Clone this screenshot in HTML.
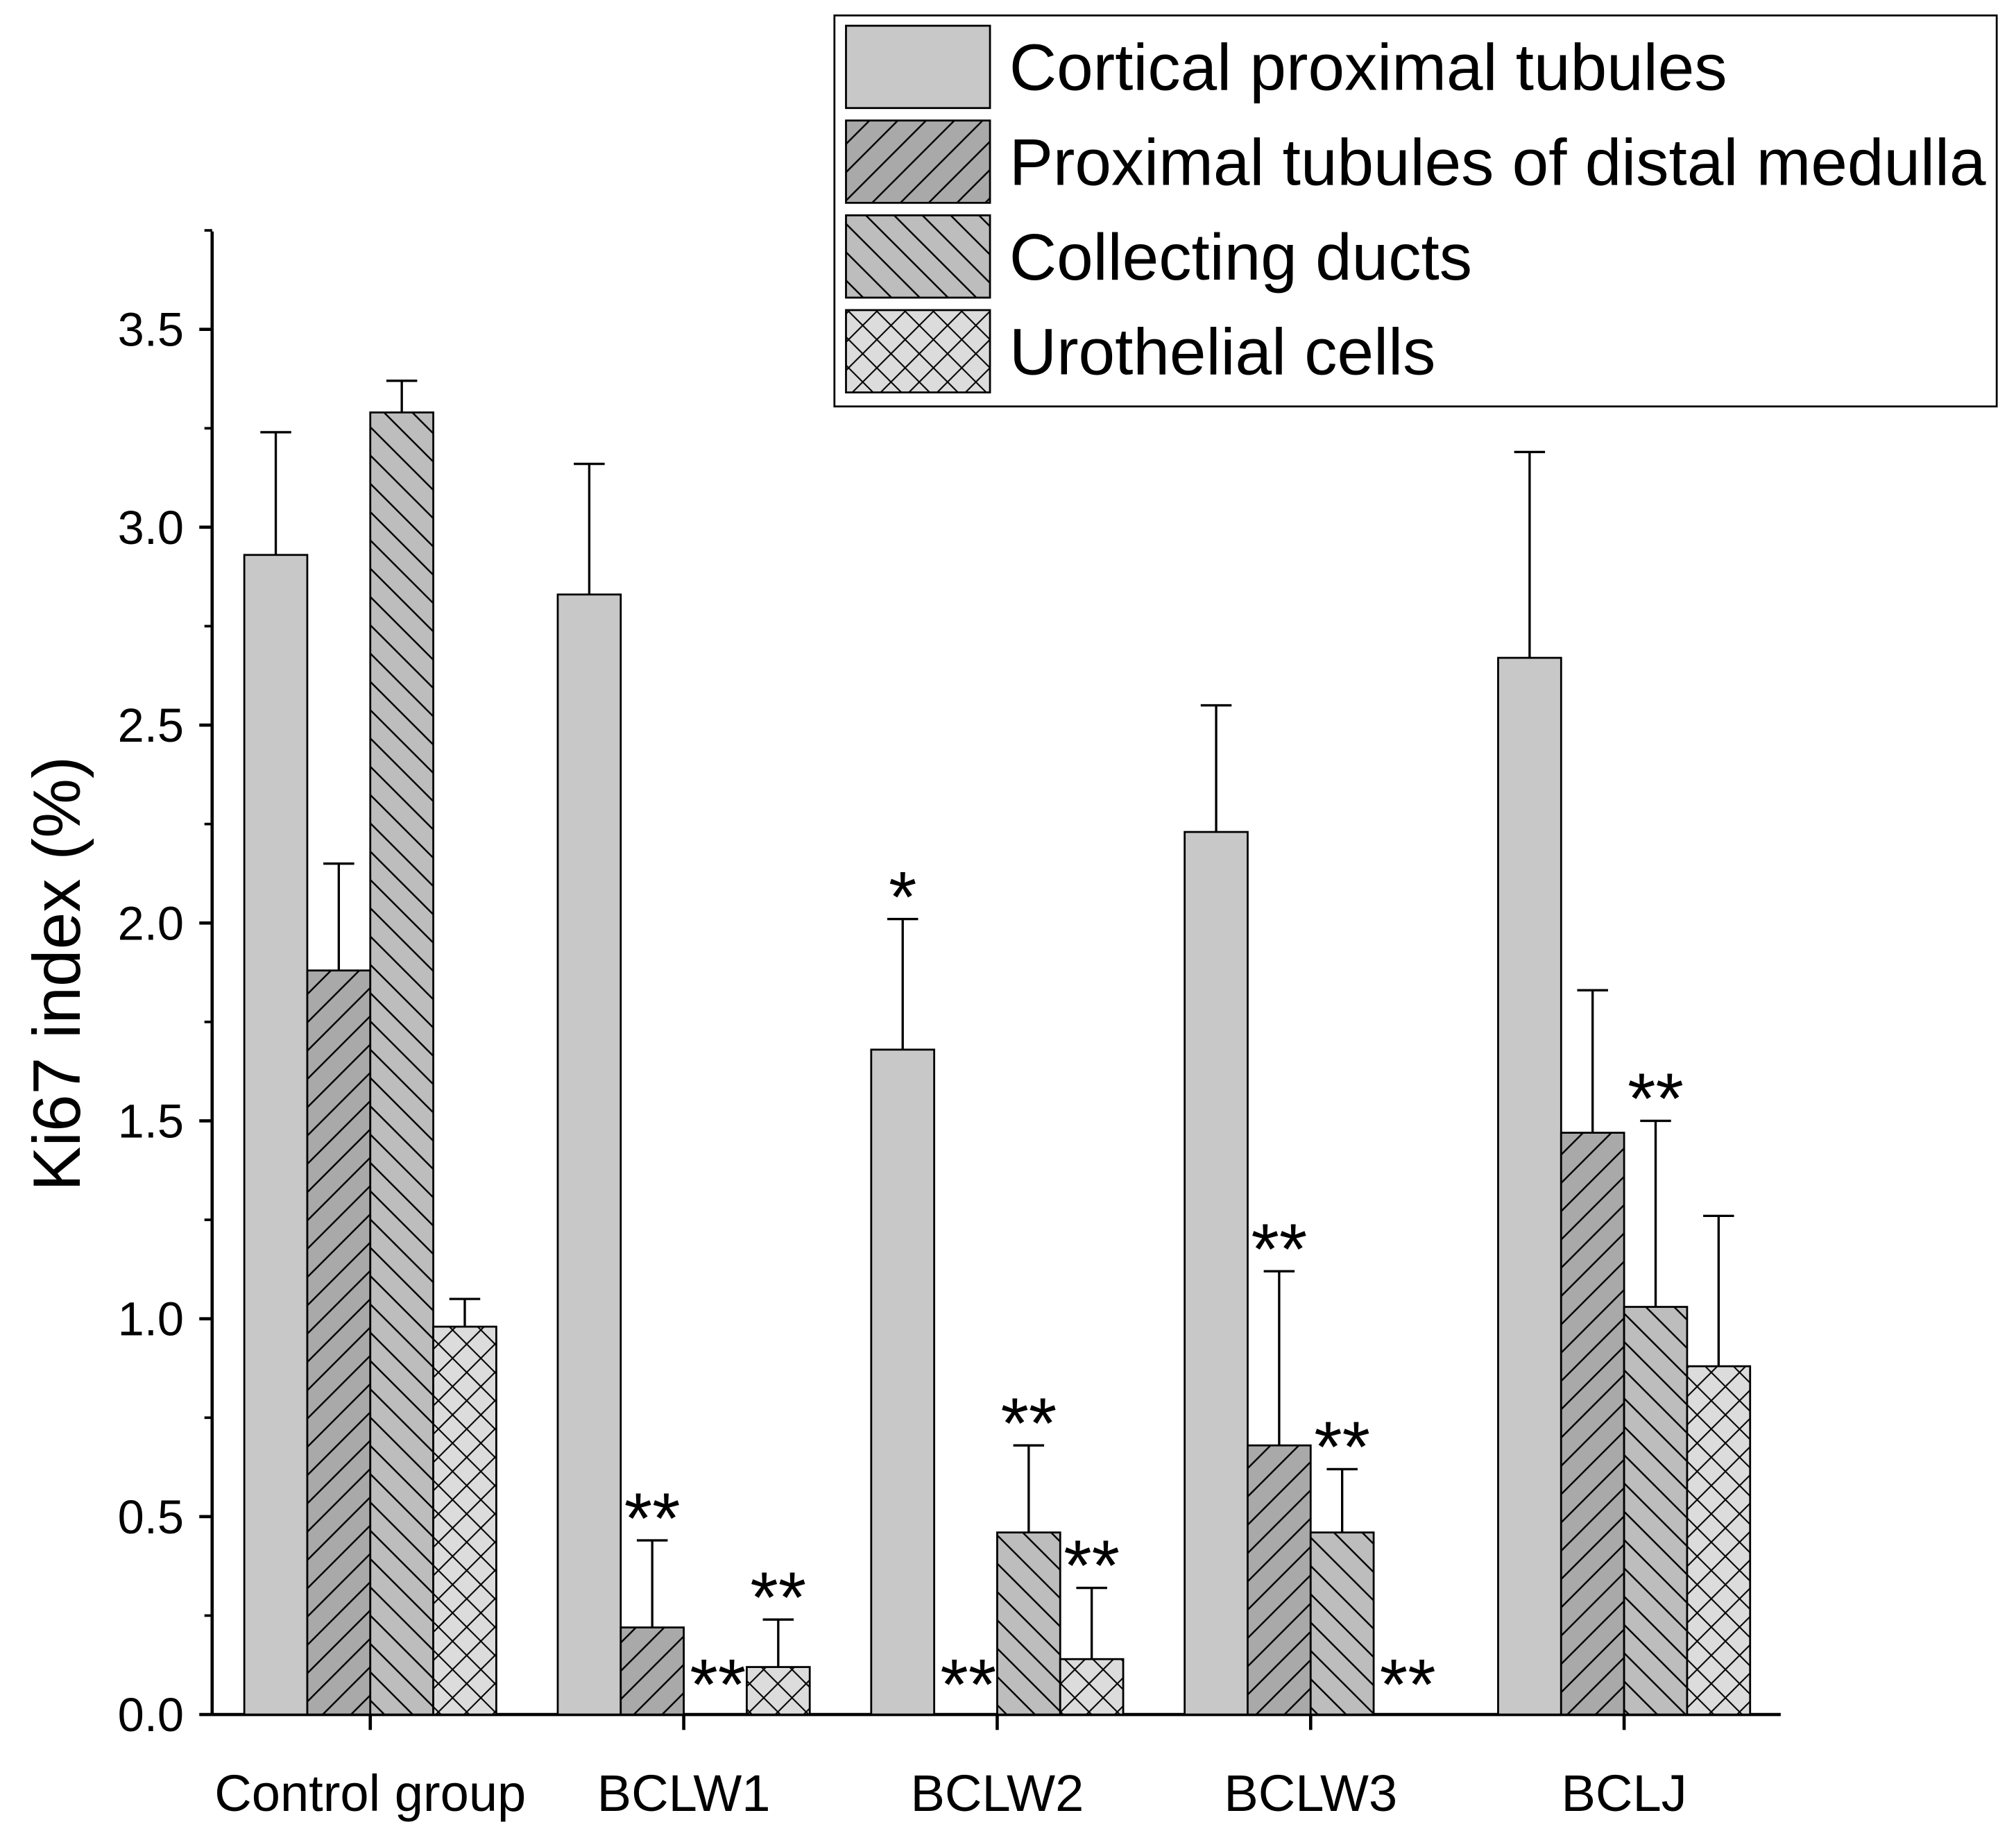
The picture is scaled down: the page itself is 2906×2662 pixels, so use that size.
<!DOCTYPE html>
<html><head><meta charset="utf-8"><style>
html,body{margin:0;padding:0;background:#fff}
svg{display:block}
text{font-family:"Liberation Sans",sans-serif;fill:#000}
</style></head><body>
<svg id="chart" width="2906" height="2662" viewBox="0 0 1568 1436" preserveAspectRatio="none" xmlns="http://www.w3.org/2000/svg">
<defs>
<pattern id="p1" patternUnits="userSpaceOnUse" width="22" height="22"><rect width="22" height="22" fill="#a9a9a9"/><path d="M-2,24 L24,-2 M-13,13 L13,-13 M9,35 L35,9" stroke="#000" stroke-width="1.3"/></pattern>
<pattern id="p2" patternUnits="userSpaceOnUse" width="22" height="22"><rect width="22" height="22" fill="#bdbdbd"/><path d="M-2,-2 L24,24 M-13,9 L13,35 M9,-13 L35,13" stroke="#000" stroke-width="1.3"/></pattern>
<pattern id="p3" patternUnits="userSpaceOnUse" width="22" height="22"><rect width="22" height="22" fill="#dcdcdc"/><path d="M-2,24 L24,-2 M-13,13 L13,-13 M9,35 L35,9 M-2,-2 L24,24 M-13,9 L13,35 M9,-13 L35,13" stroke="#000" stroke-width="1.1"/></pattern>
</defs>
<g id="plot"></g>
</svg>
<script>
const categories=["Control group","BCLW1","BCLW2","BCLW3","BCLJ"];
const seriesNames=["Cortical proximal tubules","Proximal tubules of distal medulla","Collecting ducts","Urothelial cells"];
const cortical=[2.93,2.83,1.68,2.23,2.67];
const cortical_err=[0.31,0.33,0.33,0.32,0.52];
const distal=[1.88,0.22,0,0.68,1.47];
const distal_err=[0.27,0.22,0,0.44,0.36];
const collecting=[3.29,0,0.46,0.46,1.03];
const collecting_err=[0.08,0,0.22,0.16,0.47];
const urothelial=[0.98,0.12,0.14,0,0.88];
const urothelial_err=[0.07,0.12,0.18,0,0.38];
const stars=[["","","",""],["","**","**","**"],["*","**","**","**"],["","**","**","**"],["","","**",""]];
const yTicks=[0,0.5,1,1.5,2,2.5,3,3.5];

const NS="http://www.w3.org/2000/svg";
const g=document.getElementById('plot');
const x0=165,y0=1333,unit=307.7;
const yS=v=>y0-v*unit;
const groupCenter=i=>288+i*243.8;
const bw=49;
function el(t,a,p){const e=document.createElementNS(NS,t);for(const k in a)e.setAttribute(k,a[k]);(p||g).appendChild(e);return e;}
const fills=["#c8c8c8","url(#p1)","url(#p2)","url(#p3)"];
const vals=[cortical,distal,collecting,urothelial];
const errs=[cortical_err,distal_err,collecting_err,urothelial_err];
let a=el('line',{x1:x0,y1:180,x2:x0,y2:y0,stroke:'#000','stroke-width':2.5});

a=el('line',{x1:x0,y1:y0,x2:1385,y2:y0,stroke:'#000','stroke-width':2.5});

yTicks.forEach(v=>{
 const t=el('line',{x1:x0-10,x2:x0,y1:yS(v),y2:yS(v),stroke:'#000','stroke-width':2.5});
 
 const m=el('line',{x1:x0-6,x2:x0,y1:yS(v+0.25),y2:yS(v+0.25),stroke:'#000','stroke-width':2});
 
 const l=el('text',{x:x0-22,y:yS(v)+13,'text-anchor':'end','font-size':37});
 l.textContent=v.toFixed(1);
 
});
categories.forEach((c,i)=>{
 const cx=groupCenter(i);
 const t=el('line',{x1:cx,x2:cx,y1:y0,y2:y0+12,stroke:'#000','stroke-width':2.5});
 
 const l=el('text',{x:cx,y:1408,'text-anchor':'middle','font-size':40});
 l.textContent=c;
 
 for(let s=0;s<4;s++){
  const v=vals[s][i],e=errs[s][i];
  const bx=cx-2*bw+s*bw;
  if(v>0){
   const r=el('rect',{x:bx,y:yS(v),width:bw,height:y0-yS(v),fill:fills[s],stroke:'#000','stroke-width':1.5});
   
   
   if(e>0){
    const mx=bx+bw/2;
    const ln=el('path',{d:`M${mx},${yS(v)} L${mx},${yS(v+e)} M${mx-12},${yS(v+e)} L${mx+12},${yS(v+e)}`,stroke:'#000','stroke-width':1.8,fill:'none'});
    
   }
  }
  const st=stars[i][s];
  if(st){
   const ty=v>0?yS(v+e)+2:y0-4;
   const sx=el('text',{x:bx+bw/2+(v>0?0:2),y:ty,'text-anchor':'middle','font-size':56});
   sx.textContent=st;
   
  }
 }
});
const yt=el('text',{x:0,y:0,'text-anchor':'middle','font-size':52,transform:'translate(62,757) rotate(-90)'});
yt.textContent='Ki67 index (%)';

const lg=el('rect',{x:649,y:12,width:904,height:304,fill:'#fff',stroke:'#000','stroke-width':1.5});

seriesNames.forEach((n,s)=>{
 const y=20+s*73.7;
 const sw=el('rect',{x:658,y:y,width:112,height:64,fill:fills[s],stroke:'#000','stroke-width':1.5});
 
 const t=el('text',{x:785,y:y+50,'font-size':51});
 t.textContent=n;
 
});
</script>
</body></html>
